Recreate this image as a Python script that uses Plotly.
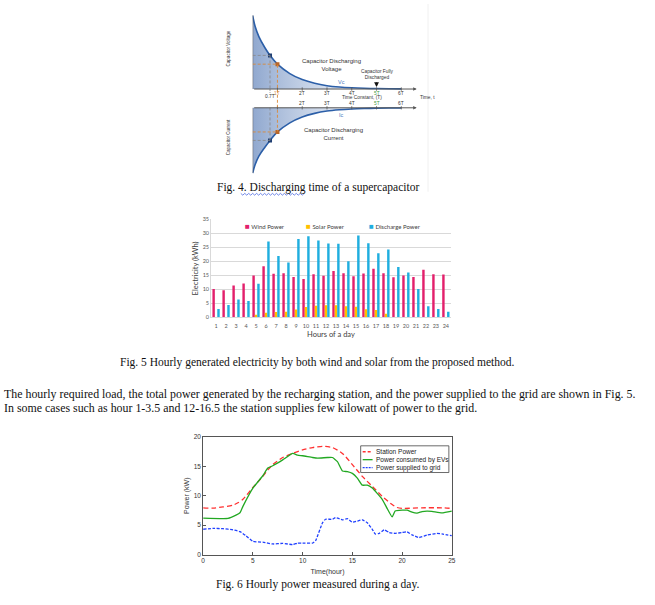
import plotly.graph_objects as go

W, H = 655, 605
def PX(x): return x / W
def PY(y): return 1 - y / H

# ---------------- Data ----------------
# Fig. 4 supercapacitor discharge (units of Vs / Is vs time constants)
cap_t = [0, 0.1, 0.25, 0.5, 0.7, 1.0, 1.5, 2.0, 2.5, 3.0, 3.5, 4.0, 4.5, 5.0, 5.5, 6.0]
cap_v = [1.09, 0.93, 0.78, 0.61, 0.5, 0.37, 0.23, 0.14, 0.085, 0.05, 0.03, 0.018, 0.011, 0.007, 0.004, 0.002]
cap_i = [-1.0, -0.87, -0.74, -0.6, -0.5, -0.37, -0.23, -0.14, -0.085, -0.05, -0.03, -0.018, -0.011, -0.007, -0.004, -0.002]
mark_t = [0.7, 1.0]
mark_v = [0.5, 0.37]
mark_i = [-0.5, -0.37]

# Fig. 5 hourly bars
hours = list(range(1, 25))
wind = [10.1, 9.7, 11.4, 12.1, 15.0, 18.3, 15.6, 15.8, 14.4, 13.7, 15.4, 14.9,
        16.6, 15.8, 14.7, 15.7, 17.4, 15.8, 14.3, 15.0, 14.4, 17.0, 15.4, 15.3]
solar = [0, 0, 0, 0, 0.9, 1.6, 1.9, 2.0, 2.8, 3.7, 4.1, 4.3,
         4.3, 4.0, 3.8, 2.9, 2.6, 1.3, 0, 0, 0, 0, 0, 0]
discharge = [3.0, 4.4, 6.4, 5.8, 12.0, 27.1, 21.9, 19.6, 28.0, 29.0, 27.5, 26.4,
             26.3, 20.1, 29.3, 26.5, 22.9, 24.3, 18.0, 16.0, 10.1, 4.0, 3.0, 2.0]

# Fig. 6 hourly power
t_station = [0, 1, 2, 3, 3.5, 4, 5, 6, 6.5, 7, 8, 9, 10, 11, 12, 13, 14, 15, 16, 17, 18, 19, 19.5, 20, 22, 24, 25]
p_station = [7.95, 7.9, 8.1, 8.4, 8.8, 9.4, 11.4, 13.3, 14.4, 15.3, 16.5, 17.2, 17.8, 18.2, 18.4, 18.2, 17.2,
             15.3, 13.3, 11.6, 9.9, 8.5, 8.0, 7.85, 7.95, 7.95, 7.85]
t_ev = [0, 2.5, 3.3, 3.7, 4, 5, 6, 6.5, 7, 8, 9, 9.5, 10, 11, 11.5, 12.5, 13, 13.5, 14, 14.5, 15, 15.5, 16,
        16.5, 17, 18, 19, 19.3, 20, 20.5, 21, 21.5, 22, 22.5, 23, 24, 25]
p_ev = [6.2, 6.15, 6.7, 7.1, 8.2, 11.3, 13.4, 14.7, 15.1, 16.1, 17.2, 16.9, 16.8, 16.5, 16.4, 16.5, 16.5, 15.8,
        14.2, 14.1, 13.8, 13.0, 11.8, 11.8, 11.3, 9.4, 6.4, 7.4, 7.55, 7.55, 7.2, 7.05, 7.3, 7.4, 7.35, 7.1, 7.4]
t_grid = [0, 1, 2, 3, 3.7, 4.3, 5, 6, 7, 8, 9, 9.5, 10, 11, 11.3, 12, 12.3, 13, 13.3, 14, 14.5, 15, 15.5,
          16, 16.5, 17, 17.3, 17.7, 18.2, 18.7, 19.3, 20, 20.5, 21, 21.7, 22.5, 23.5, 24, 25]
p_grid = [4.3, 4.45, 4.4, 4.2, 3.9, 3.2, 2.25, 2.1, 1.8, 1.9, 1.7, 1.95, 1.95, 1.95, 2.35, 5.4, 6.0, 6.0, 6.3,
          5.9, 6.1, 5.5, 5.7, 5.9, 5.4, 4.3, 3.5, 3.6, 4.2, 3.75, 3.6, 3.75, 3.85, 3.35, 2.9, 3.3, 3.6, 3.5, 3.2]

fig = go.Figure()

# ---------- Fig 4 traces ----------
blue = '#2C5FA8'
grad = dict(type='horizontal', colorscale=[[0, 'rgba(70,110,175,0.6)'], [0.6, 'rgba(170,190,220,0.38)'], [1, 'rgba(255,255,255,0)']])
fig.add_trace(go.Scatter(x=cap_t, y=cap_v, xaxis='x', yaxis='y', mode='lines', line=dict(color=blue, width=1.6, shape='spline'),
                         fill='tozeroy', fillgradient=grad, showlegend=False, hoverinfo='skip'))
fig.add_trace(go.Scatter(x=cap_t, y=cap_i, xaxis='x2', yaxis='y2', mode='lines', line=dict(color=blue, width=1.6, shape='spline'),
                         fill='tozeroy', fillgradient=grad, showlegend=False, hoverinfo='skip'))
fig.add_trace(go.Scatter(x=mark_t, y=mark_v, xaxis='x', yaxis='y', mode='markers',
                         marker=dict(symbol='square', size=4, color=['#1F3F73', '#B8662A']), showlegend=False))
fig.add_trace(go.Scatter(x=mark_t, y=mark_i, xaxis='x2', yaxis='y2', mode='markers',
                         marker=dict(symbol='square', size=4, color=['#1F3F73', '#B8662A']), showlegend=False))

# ---------- Fig 5 bars ----------
fig.add_trace(go.Bar(x=hours, y=wind, name='Wind Power', marker=dict(color='#E3206C', line=dict(width=0)), xaxis='x3', yaxis='y3'))
fig.add_trace(go.Bar(x=hours, y=solar, name='Solar Power', marker=dict(color='#FFC000', line=dict(width=0)), xaxis='x3', yaxis='y3'))
fig.add_trace(go.Bar(x=hours, y=discharge, name='Discharge Power', marker=dict(color='#1FAEDF', line=dict(width=0)), xaxis='x3', yaxis='y3'))

# ---------- Fig 6 lines ----------
c_red, c_green, c_blue = '#FF3030', '#22A822', '#2040FF'
fig.add_trace(go.Scatter(x=t_station, y=p_station, name='Station Power', xaxis='x4', yaxis='y4', mode='lines',
                         line=dict(color=c_red, width=1.3, dash='5px,3px', shape='spline', smoothing=0.6)))
fig.add_trace(go.Scatter(x=t_ev, y=p_ev, name='Power consumed by EVs', xaxis='x4', yaxis='y4', mode='lines',
                         line=dict(color=c_green, width=1.3, shape='spline', smoothing=0.4)))
fig.add_trace(go.Scatter(x=t_grid, y=p_grid, name='Power supplied to grid', xaxis='x4', yaxis='y4', mode='lines',
                         line=dict(color=c_blue, width=1.3, dash='3px,1.5px', shape='spline', smoothing=0.4)))

ax_hidden = dict(visible=False, fixedrange=True)
mat_ax = dict(showline=True, mirror=True, linecolor='#555555', linewidth=0.8, ticks='inside', ticklen=3,
              tickcolor='#555555', showgrid=False, zeroline=False,
              tickfont=dict(family='Liberation Sans', size=6.5, color='#333333'))

fig.update_layout(
    width=W, height=H, margin=dict(l=0, r=0, t=0, b=0), paper_bgcolor='white', plot_bgcolor='rgba(0,0,0,0)',
    showlegend=False, barmode='group', bargap=0.27, bargroupgap=0,
    xaxis=dict(domain=[PX(253), PX(425)], range=[0, 6.88], anchor='y', **ax_hidden),
    yaxis=dict(domain=[PY(88), PY(8)], range=[-0.029, 1.147], anchor='x', **ax_hidden),
    xaxis2=dict(domain=[PX(253), PX(425)], range=[0, 6.88], anchor='y2', **ax_hidden),
    yaxis2=dict(domain=[PY(175), PY(100)], range=[-1.06, 0.076], anchor='x2', **ax_hidden),
    xaxis3=dict(domain=[PX(211), PX(453)], range=[0.5, 24.5], anchor='y3', tickvals=hours, ticks='',
                showline=True, linecolor='#d9d9d9', linewidth=0.8, showgrid=False, zeroline=False,
                ticklabelstandoff=3,
                tickfont=dict(family='Lato', size=5.5, color='#595959'),
                title=dict(text='Hours of a day', font=dict(family='Lato', size=7.5, color='#404040'), standoff=3)),
    yaxis3=dict(domain=[PY(317), PY(218)], range=[0, 35], dtick=5, anchor='x3', ticks='',
                showline=True, linecolor='#d9d9d9', linewidth=0.8, showgrid=True, gridcolor='#d9d9d9', gridwidth=0.6,
                zeroline=False, tickfont=dict(family='Lato', size=5.5, color='#595959'),
                title=dict(text='Electricity (kWh)', font=dict(family='Lato', size=7.5, color='#404040'), standoff=3)),
    xaxis4=dict(domain=[PX(203), PX(454)], range=[0, 25], dtick=5, anchor='y4',
                title=dict(text='Time(hour)', font=dict(family='Liberation Sans', size=7, color='#333333'), standoff=5), **mat_ax),
    yaxis4=dict(domain=[PY(557), PY(438)], range=[0, 20], dtick=5, anchor='x4',
                title=dict(text='Power (kW)', font=dict(family='Liberation Sans', size=7, color='#333333'), standoff=3), **mat_ax),
)

shapes = []
ann = []
gl = '#555555'
orange = '#D98A3A'
def sfont(size=5, color='#333333'):
    return dict(family='Liberation Sans', size=size, color=color)

def A(**kw):
    kw.setdefault('showarrow', False)
    kw.setdefault('xanchor', 'center')
    kw.setdefault('yanchor', 'middle')
    ann.append(kw)

# --- Fig 4 axes/guides
for xr, yr, ytop, ysign in [('x', 'y', 1.1, 1), ('x2', 'y2', -1.0, -1)]:
    shapes.append(dict(type='line', xref=xr, yref=yr, x0=0, x1=0, y0=0, y1=ytop, line=dict(color=gl, width=1)))
    A(xref=xr, yref=yr, x=6.62, y=0, ax=0, ay=0, axref=xr, ayref=yr, text='', showarrow=True,
      arrowhead=2, arrowsize=0.7, arrowwidth=1, arrowcolor=gl)
    for k in range(1, 7):
        shapes.append(dict(type='line', xref=xr, yref=yr, x0=k, x1=k, y0=-0.025, y1=0.025, line=dict(color=gl, width=0.8)))
    shapes.append(dict(type='line', xref=xr, yref=yr, x0=0, x1=0.7, y0=0.5 * ysign, y1=0.5 * ysign,
                       line=dict(color='#888888', width=0.8, dash='3px,2px')))
    shapes.append(dict(type='line', xref=xr, yref=yr, x0=0.7, x1=0.7, y0=0.5 * ysign, y1=0,
                       line=dict(color='#888888', width=0.8, dash='3px,2px')))
    shapes.append(dict(type='line', xref=xr, yref=yr, x0=0, x1=1, y0=0.37 * ysign, y1=0.37 * ysign,
                       line=dict(color=orange, width=0.9, dash='3px,2px')))
shapes.append(dict(type='line', xref='x', yref='paper', x0=1, x1=1, y0=PY(61.5), y1=PY(129),
                   line=dict(color=orange, width=0.9, dash='3px,2px')))
shapes.append(dict(type='line', xref='x', yref='paper', x0=0.7, x1=0.7, y0=PY(86), y1=PY(90),
                   line=dict(color='#888888', width=0.8, dash='2px,1px')))
shapes.append(dict(type='line', xref='paper', yref='paper', x0=PX(430), x1=PX(430), y0=PY(0), y1=PY(190),
                   line=dict(color='#f0f0f0', width=1)))

for txt, yv, col in [('Vs', 1.0, '#333333'), ('0.5Vs', 0.5, '#333333'), ('0.37Vs', 0.37, orange), ('0', 0.0, '#333333')]:
    A(xref='x', yref='y', x=-0.15, y=yv, text=txt, xanchor='right', font=sfont(4.8, col))
A(xref='paper', yref='paper', x=PX(229), y=PY(45), text='Capacitor Voltage', textangle=-90, font=sfont(4.5))
A(xref='x', yref='y', x=3.2, y=0.35, text='Capacitor Discharging<br>Voltage', font=sfont(6))
A(xref='x', yref='y', x=3.6, y=0.1, text='Vc', font=sfont(5.5, '#4A78C0'))
A(xref='x', yref='y', x=5.05, y=0.22, text='Capacitor Fully<br>Discharged', font=sfont(4.8))
A(xref='x', yref='y', x=5.0, y=0.03, ax=5.0, ay=0.12, axref='x', ayref='y', text='', showarrow=True,
  arrowhead=2, arrowsize=0.8, arrowwidth=1.2, arrowcolor='#111111')
for k, col in [(1, orange), (2, '#333333'), (3, '#333333'), (4, '#333333'), (5, '#3FA03F'), (6, '#333333')]:
    A(xref='x', yref='paper', x=k, y=PY(90.5), text=f'{k}T', font=sfont(4.8, col))
A(xref='x', yref='paper', x=0.68, y=PY(94), text='0.7T', font=sfont(4.8))
A(xref='x', yref='paper', x=4.4, y=PY(95), text='Time Constant, (T)', font=sfont(4.8))
A(xref='paper', yref='paper', x=PX(420), y=PY(95), text='Time, t', xanchor='left', font=sfont(4.8))
for k in range(2, 7):
    A(xref='x2', yref='paper', x=k, y=PY(101), text=f'{k}T', font=sfont(4.8, '#3FA03F' if k == 5 else '#333333'))
for txt, yv, col in [('0', 0.0, '#333333'), ('0.37Is', -0.37, orange), ('0.5Is', -0.5, '#333333'), ('-Is', -1.0, '#333333')]:
    A(xref='x2', yref='y2', x=-0.15, y=yv, text=txt, xanchor='right', font=sfont(4.8, col))
A(xref='paper', yref='paper', x=PX(229), y=PY(135), text='Capacitor Current', textangle=-90, font=sfont(4.5))
A(xref='x2', yref='y2', x=3.25, y=-0.4, text='Capacitor Discharging<br>Current', font=sfont(6))
A(xref='x2', yref='y2', x=3.6, y=-0.11, text='Ic', font=sfont(5.5, '#4A78C0'))

serif = dict(family='Liberation Serif', size=11.5, color='#111111')
A(xref='paper', yref='paper', x=PX(319), y=PY(186), text='Fig. 4. Discharging time of a supercapacitor', font=serif)
# spell-check wavy underline under "4. Discharging"
zx = [241 + 2 * i for i in range(33)]
zpath = 'M ' + ' L '.join(f'{PX(x):.5f},{PY(192.5 + (0.9 if i % 2 else -0.9)):.5f}' for i, x in enumerate(zx))
shapes.append(dict(type='path', xref='paper', yref='paper', path=zpath, line=dict(color='#3355dd', width=0.7)))

# --- Fig 5 legend
leg_items = [('Wind Power', '#E3206C', 243), ('Solar Power', '#FFC000', 305), ('Discharge Power', '#1FAEDF', 368)]
for txt, col, xp in leg_items:
    A(xref='paper', yref='paper', x=PX(xp), y=PY(225), xanchor='left',
      text=f"<span style='color:{col};font-size:8px'>■</span> {txt}", font=dict(family='Lato', size=6, color='#404040'))
A(xref='paper', yref='paper', x=PX(318), y=PY(363),
  text='Fig. 5 Hourly generated electricity by both wind and solar from the proposed method.', font=serif)
para = dict(family='Liberation Serif', size=11.9, color='#111111')
A(xref='paper', yref='paper', x=PX(0), y=PY(395), xanchor='left', font=para,
  text='The hourly required load, the total power generated by the recharging station, and the power supplied to the grid are shown in Fig. 5.')
A(xref='paper', yref='paper', x=PX(0), y=PY(409), xanchor='left', font=para,
  text='In some cases such as hour 1-3.5 and 12-16.5 the station supplies few kilowatt of power to the grid.')

# --- Fig 6 legend (manual)
shapes.append(dict(type='rect', xref='paper', yref='paper', x0=PX(362), x1=PX(451), y0=PY(447), y1=PY(474),
                   line=dict(color='#444444', width=0.8), fillcolor='white'))
for (txt, col, dash), yp in zip([('Station Power', c_red, '3px,2px'), ('Power consumed by EVs', c_green, 'solid'),
                                 ('Power supplied to grid', c_blue, '2px,1px')], [453, 461, 469]):
    shapes.append(dict(type='line', xref='paper', yref='paper', x0=PX(364), x1=PX(374), y0=PY(yp), y1=PY(yp),
                       line=dict(color=col, width=1.3, dash=dash)))
    A(xref='paper', yref='paper', x=PX(375), y=PY(yp), xanchor='left', text=txt,
      font=dict(family='Liberation Sans', size=6.5, color='#222222'))
A(xref='paper', yref='paper', x=PX(318), y=PY(587), text='Fig. 6 Hourly power measured during a day.', font=serif)

fig.update_layout(shapes=shapes, annotations=ann)
fig.write_html("out.html", config={'displayModeBar': False},
               post_script="document.body.style.margin='0';document.body.style.overflow='hidden';")
